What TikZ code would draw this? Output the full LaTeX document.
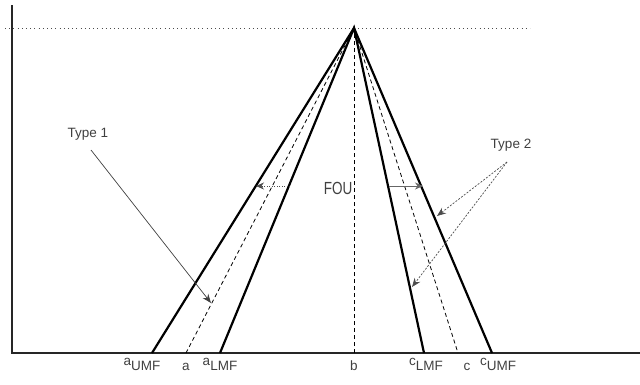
\documentclass[tikz,border=0pt]{standalone}
\usepackage{fontspec}
\setmainfont{Liberation Sans}
\usetikzlibrary{arrows.meta}
\begin{document}
\begin{tikzpicture}[x=1pt,y=-1pt,
  umf/.style={line width=2.2pt,black},
  mid/.style={line width=0.8pt,dash pattern=on 4pt off 3pt},
  axis/.style={line width=2pt,black!85},
  lbl/.style={font=\fontsize{13.5}{15}\selectfont,text=black!75,inner sep=0pt},
  ptr/.style={line width=0.7pt,black!75,-{Stealth[length=9pt,width=7pt]}},
  ptrd/.style={line width=0.7pt,black!70,dash pattern=on 2pt off 1.5pt,-{Stealth[length=9pt,width=7pt]}}]
\useasboundingbox (0,0) rectangle (640,384);
% coordinates
\coordinate (apex) at (354,28);
\coordinate (aU) at (152,353);
\coordinate (a) at (186,353);
\coordinate (aL) at (220,353);
\coordinate (b) at (354,353);
\coordinate (cL) at (424,353);
\coordinate (c) at (458,353);
\coordinate (cU) at (492,353);
\coordinate (o) at (12,353);
\coordinate (ytop) at (12,5);
\coordinate (xend) at (640,353);
\coordinate (dl) at (5,28);
\coordinate (dr) at (530,28);
% dotted top line
\draw[line width=1pt,dash pattern=on 1pt off 3.2pt,black!70] (dl) -- (dr);
% axes
\draw[axis] (ytop) -- (o) -- (xend);
% triangles
\draw[umf] (aU) -- (apex) -- (cU);
\draw[umf] (aL) -- (apex) -- (cL);
\draw[mid] (a) -- (apex) -- (c);
\draw[mid] (b) -- (apex);
% labels
\node[lbl,anchor=base] (laU) at (142,370) {\raisebox{5pt}{a}UMF};
\node[lbl,anchor=base] (la) at (186,370) {a};
\node[lbl,anchor=base] (laL) at (220,370) {\raisebox{5pt}{a}LMF};
\node[lbl,anchor=base] (lb) at (354,370) {b};
\node[lbl,anchor=base] (lcL) at (426,370) {\raisebox{5pt}{c}LMF};
\node[lbl,anchor=base] (lc) at (467,370) {c};
\node[lbl,anchor=base] (lcU) at (498,370) {\raisebox{5pt}{c}UMF};
% Type 1
\node[lbl] (t1) at (88,134) {Type 1};
\coordinate (t1s) at (91,150);
\coordinate (t1e) at (211,303);
\draw[ptr] (t1s) -- (t1e);
% Type 2
\node[lbl] (t2) at (511,145) {Type 2};
\coordinate (t2s) at (507,162);
\coordinate (t2e1) at (437,216);
\coordinate (t2e2) at (412,287);
\draw[ptrd] (t2s) -- (t2e1);
\draw[ptrd] (t2s) -- (t2e2);
% FOU
\node[lbl] (fou) at (338,188) {\scalebox{1}[1.3]{FOU}};
\coordinate (fl1) at (290,186);
\coordinate (fl2) at (256,186);
\coordinate (fr1) at (389,186);
\coordinate (fr2) at (423,186);
\draw[line width=0.8pt,black!70,dash pattern=on 1pt off 1.5pt,-{Stealth[length=8pt,width=7pt]}] (fl1) -- (fl2);
\draw[line width=0.8pt,black!60,-{Stealth[length=8pt,width=7pt]}] (fr1) -- (fr2);
\end{tikzpicture}
\end{document}
